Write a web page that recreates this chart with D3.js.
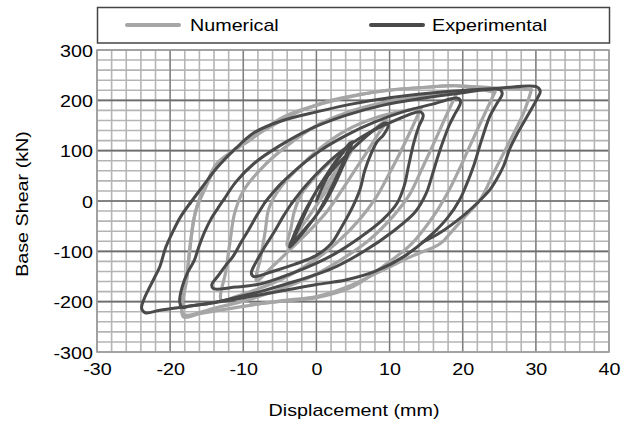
<!DOCTYPE html>
<html>
<head>
<meta charset="utf-8">
<script src="https://cdn.jsdelivr.net/npm/d3@7"></script>
<style>
  body { margin: 0; background: #fff; }
  svg { display: block; font-family: "Liberation Sans", Arial, sans-serif; }
</style>
</head>
<body>
<svg id="chart" width="628" height="422"></svg>
<script>
// Axis ticks
const xTicks = [-30, -20, -10, 0, 10, 20, 30, 40];
const yTicks = [-300, -200, -100, 0, 100, 200, 300];
const seriesNames = ["Numerical", "Experimental"];

// Numerical hysteresis cycles: [displacement mm, base shear kN]
const numCycle1 = [[0,0],[1.5,35],[3,66],[5,105],[4,80],[2.5,45],[0.5,2],[-1.5,-40],[-4,-88],[-3.5,-55],[-3,-20],[-2,15],[0,50],[2.5,85],[5,105]];
const numCycle2 = [[5,105],[7,132],[9.6,160],[8.3,130],[6.8,95],[5.2,60],[3.5,22],[1.5,-20],[-1,-60],[-3.5,-95],[-6,-130],[-8.2,-158],[-7.6,-110],[-7,-60],[-6.5,-15],[-5,25],[-2.5,65],[0.5,105],[4,140],[8,165],[11,176],[14.3,185]];
const numCycle3 = [[14.3,185],[12.9,140],[11.4,95],[9.8,50],[8.2,8],[6,-35],[3,-80],[0,-115],[-4,-150],[-8,-175],[-11,-190],[-13,-197],[-12.4,-140],[-11.8,-80],[-11.2,-25],[-10,20],[-7.5,65],[-4,110],[0,150],[4,175],[9,195],[14,207],[19.2,215]];
const numCycle4 = [[19.2,215],[17.6,165],[15.9,110],[14.3,60],[12.7,12],[10.5,-30],[7,-80],[3,-120],[0,-145],[-4,-170],[-9,-195],[-14,-213],[-18.2,-225],[-17.7,-150],[-17.2,-80],[-16.5,-20],[-15.2,25],[-13.6,70],[-10,115],[-6,150],[-2,180],[2,200],[6,212],[10,220],[15,226],[19,229],[24.4,216]];
const numCycle5 = [[24.4,216],[22.8,167],[21,110],[19.5,62],[18,18],[16,-30],[13,-85],[9.1,-130],[5,-170],[0,-192],[-4,-198],[-7.7,-204],[-12,-214],[-16,-224],[-18.2,-230],[-17.7,-150],[-17.3,-97],[-16.8,-40],[-16.1,0],[-15,35],[-13.6,75],[-9,122],[-4.5,167],[0,190],[5,208],[9.6,220],[15,226],[19,229],[24,225],[29.4,221]];
const numCycle6 = [[29.4,221],[28.3,174],[26.5,121],[24.2,55],[22.5,5],[20.3,-31],[18.3,-64],[16.9,-85],[13,-110],[9.1,-137],[4,-172],[0,-190],[-4,-197],[-9,-206]];

// Experimental hysteresis cycles: [displacement mm, base shear kN]
const expCycle1 = [[0,0],[1.2,40],[2.6,75],[3.8,100],[4.6,116],[4.3,100],[3.5,72],[2.5,40],[1.3,5],[0,-28],[-1.6,-56],[-2.8,-76],[-3.5,-88],[-3.2,-78],[-2.4,-52],[-1.4,-20],[-0.2,15],[1.3,50],[2.9,84],[4.1,106],[4.9,118],[4.5,100],[3.6,68],[2.4,30],[1.1,-5],[-0.5,-38],[-1.9,-64],[-3.1,-84],[-3.7,-92],[-3.3,-76],[-2.4,-45],[-1.2,-10],[0.2,25]];
const expCycle2 = [[0.2,25],[2,58],[4,90],[6,118],[7.8,140],[9.4,155],[9.8,150],[9.2,132],[8.3,118],[7.5,95],[6.6,60],[6,25],[5,-10],[3.5,-50],[2,-85],[0,-108],[-3,-126],[-6,-140],[-8.6,-150],[-8.9,-143],[-8.2,-120],[-7.1,-92],[-5.8,-62],[-4.6,-32],[-3.4,-5]];
const expCycle3 = [[-3.4,-5],[-1.5,30],[1,68],[3.5,100],[6.5,130],[10,155],[14.2,177],[14.6,170],[14,148],[13.3,115],[12.6,70],[12,30],[11,-5],[9,-38],[6,-72],[2.5,-105],[-1,-130],[-4.5,-150],[-7.7,-165],[-11,-171],[-14.1,-174],[-14.3,-166],[-13.4,-148],[-12.4,-128],[-11.4,-110],[-10.3,-82],[-9.3,-58],[-8.2,-30],[-7,-2]];
const expCycle4 = [[-7,-2],[-5,32],[-2.5,66],[0.5,100],[4,130],[8,157],[12,178],[16,193],[19.4,204],[19.7,196],[18.9,172],[18.2,152],[17.4,122],[16.6,88],[15.8,50],[15,15],[13.5,-22],[10.5,-60],[6.5,-100],[2,-135],[-3,-160],[-7.7,-180],[-12,-195],[-14.6,-203],[-17,-208],[-18.4,-211],[-18.7,-199],[-18.3,-168],[-17.6,-142],[-16.7,-118],[-16.1,-92],[-15.3,-62],[-14.5,-38],[-13.5,-15],[-12.6,4]];
const expCycle5 = [[-12.6,4],[-11,38],[-8.5,75],[-5,110],[-1,142],[4,170],[9,190],[14,203],[19,213],[25.1,221],[25.4,213],[24.6,192],[23.7,168],[22.6,122],[21.5,70],[20.5,32],[19.6,3],[18,-32],[15.5,-70],[12,-110],[8,-140],[4,-157],[0,-166],[-4.5,-178],[-9.1,-190],[-14,-202],[-18,-210],[-21.4,-217],[-23.4,-222],[-23.9,-213],[-23.6,-196],[-23,-177],[-22.2,-154],[-21.4,-130],[-20.6,-92],[-19.6,-60],[-18.6,-32],[-17.3,-5]];
const expCycle6 = [[-17.3,-5],[-15.5,30],[-13.6,66],[-11,105],[-8.6,135],[-6,153],[-3.2,166],[0,177],[4.6,192],[10,205],[18.3,218],[25,224],[30.1,227],[30.6,218],[30.2,204],[28.8,168],[27.5,135],[26.5,106],[25.6,70],[24.6,42],[23.7,22],[22,-4],[20,-30],[17,-62],[14.5,-82]];

const numCycles = [numCycle1, numCycle2, numCycle3, numCycle4, numCycle5, numCycle6];
const expCycles = [expCycle1, expCycle2, expCycle3, expCycle4, expCycle5, expCycle6];

const colors = { num: "#a6a6a6", exp: "#4a4a4a" };
const textStretch = 1.16;   // the face is drawn a little wider than Arial
const plainNumber = d => String(d);   // ASCII hyphen for negatives

const svg = d3.select("#chart");
const x = d3.scaleLinear().domain([-30, 40]).range([97, 609]);
const y = d3.scaleLinear().domain([-300, 300]).range([352, 50]);

// background of the plot area
svg.append("rect").attr("x", x(-30)).attr("y", y(300))
  .attr("width", x(40) - x(-30)).attr("height", y(-300) - y(300)).attr("fill", "#fff");

// minor grid
const grid = svg.append("g");
grid.append("g").selectAll("line").data(d3.range(-30, 41, 2)).join("line")
  .attr("x1", d => x(d)).attr("x2", d => x(d)).attr("y1", y(300)).attr("y2", y(-300))
  .attr("stroke", "#b5b5b5").attr("stroke-width", 1.6);
grid.append("g").selectAll("line").data(d3.range(-300, 301, 20)).join("line")
  .attr("y1", d => y(d)).attr("y2", d => y(d)).attr("x1", x(-30)).attr("x2", x(40))
  .attr("stroke", "#b5b5b5").attr("stroke-width", 1.6);
// major grid
grid.append("g").selectAll("line").data(xTicks.slice(1, -1)).join("line")
  .attr("x1", d => x(d)).attr("x2", d => x(d)).attr("y1", y(300)).attr("y2", y(-300))
  .attr("stroke", "#7a7a7a").attr("stroke-width", 1.2);
grid.append("g").selectAll("line").data(yTicks.slice(1, -1)).join("line")
  .attr("y1", d => y(d)).attr("y2", d => y(d)).attr("x1", x(-30)).attr("x2", x(40))
  .attr("stroke", "#6e6e6e").attr("stroke-width", 1.6);
// plot frame
svg.append("rect").attr("x", x(-30)).attr("y", y(300))
  .attr("width", x(40) - x(-30)).attr("height", y(-300) - y(300))
  .attr("fill", "none").attr("stroke", "#9a9a9a").attr("stroke-width", 1.6);

// hysteresis curves
const line = d3.line().x(d => x(d[0])).y(d => y(d[1])).curve(d3.curveCatmullRom.alpha(0.5));
svg.append("g").selectAll("path").data(numCycles).join("path")
  .attr("d", line).attr("fill", "none").attr("stroke", colors.num)
  .attr("stroke-width", 3.2).attr("stroke-linejoin", "round").attr("stroke-linecap", "round");
svg.append("g").selectAll("path").data(expCycles).join("path")
  .attr("d", line).attr("fill", "none").attr("stroke", colors.exp)
  .attr("stroke-width", 3).attr("stroke-linejoin", "round").attr("stroke-linecap", "round");

// axes (labels only)
const xAxis = svg.append("g").attr("transform", `translate(0,${y(-300)})`)
  .call(d3.axisBottom(x).tickValues(xTicks).tickFormat(plainNumber).tickSize(0).tickPadding(0));
xAxis.select(".domain").remove();
xAxis.selectAll("text").attr("y", 23).attr("dy", 0)
  .attr("transform", `scale(${textStretch},1)`)
  .attr("font-size", 17).attr("fill", "#000").attr("font-family", "Liberation Sans, Arial, sans-serif");

const yAxis = svg.append("g").attr("transform", `translate(${x(-30)},0)`)
  .call(d3.axisLeft(y).tickValues(yTicks).tickFormat(plainNumber).tickSize(0).tickPadding(0));
yAxis.select(".domain").remove();
yAxis.selectAll("text").attr("x", -4 / textStretch).attr("dy", "0.36em")
  .attr("transform", `scale(${textStretch},1)`)
  .attr("font-size", 17).attr("fill", "#000").attr("font-family", "Liberation Sans, Arial, sans-serif");

// axis titles
svg.append("text").attr("transform", `translate(354,416) scale(${textStretch},1)`)
  .attr("text-anchor", "middle").attr("font-size", 17).text("Displacement (mm)");
svg.append("text").attr("transform", `translate(28,204) rotate(-90) scale(${textStretch},1)`)
  .attr("text-anchor", "middle").attr("font-size", 17).text("Base Shear (kN)");

// legend
const legend = svg.append("g");
legend.append("rect").attr("x", 97.5).attr("y", 7.5).attr("width", 512).attr("height", 35.5)
  .attr("fill", "#fff").attr("stroke", "#444").attr("stroke-width", 1.5);
const legendItems = [
  { name: seriesNames[0], color: colors.num, x0: 127, x1: 179, tx: 190 },
  { name: seriesNames[1], color: colors.exp, x0: 371, x1: 423, tx: 432 }
];
legendItems.forEach(it => {
  legend.append("line").attr("x1", it.x0).attr("x2", it.x1).attr("y1", 25).attr("y2", 25)
    .attr("stroke", it.color).attr("stroke-width", 4).attr("stroke-linecap", "round");
  legend.append("text").attr("transform", `translate(${it.tx},31) scale(${textStretch},1)`)
    .attr("font-size", 17).text(it.name);
});
</script>
</body>
</html>
